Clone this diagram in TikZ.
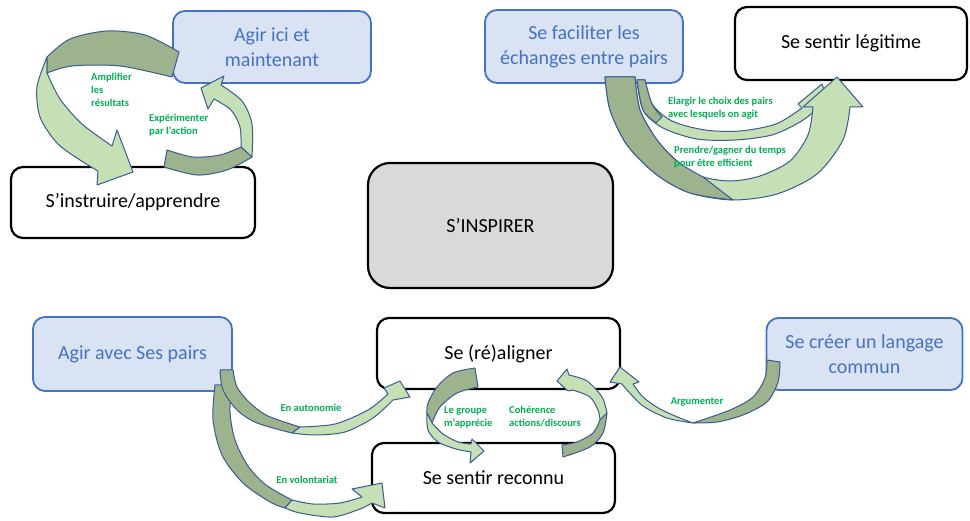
\documentclass[tikz,border=0pt]{standalone}
\usepackage{fontspec}
\setmainfont{Carlito}
\definecolor{blueFill}{HTML}{DAE3F3}
\definecolor{blueLine}{HTML}{4472C4}
\definecolor{grayFill}{HTML}{D9D9D9}
\definecolor{arLight}{HTML}{C5E0B4}
\definecolor{arDark}{HTML}{9DB38D}
\definecolor{arLine}{HTML}{3A5A94}
\definecolor{lblGreen}{HTML}{00B050}
\tikzset{
  box/.style={draw=black, line width=2.2pt, rounded corners=12pt, fill=white, align=center,
    font=\fontsize{20}{25}\selectfont, inner sep=2pt},
  bbox/.style={box, draw=blueLine, line width=1.8pt, fill=blueFill, text=blueLine},
  lite/.style={fill=arLight, draw=arLine, line width=1pt, line join=round},
  dark/.style={fill=arDark, draw=arLine, line width=1pt, line join=round},
  lbl/.style={text=lblGreen, font=\fontsize{10.5}{13}\selectfont\bfseries, align=left, inner sep=0pt}
}
\begin{document}
\begin{tikzpicture}[x=1pt,y=-1pt]
\useasboundingbox (0,0) rectangle (970,521);
% boxes
\node[bbox, minimum width=198pt, minimum height=72pt] (agir1) at (272,47) {Agir ici et\\maintenant};
\node[box, minimum width=244pt, minimum height=71pt] (instr) at (133,202.5) {S’instruire/apprendre};
\node[bbox, minimum width=198pt, minimum height=73pt] (facil) at (584,46.5) {Se faciliter les\\échanges entre pairs};
\node[box, minimum width=232pt, minimum height=73pt] (legit) at (851,43.5) {Se sentir légitime};
\node[box, fill=grayFill, rounded corners=22pt, minimum width=245pt, minimum height=125pt] (inspir) at (490.5,225.5) {S’INSPIRER};
\node[bbox, minimum width=199pt, minimum height=74pt] (agir2) at (132.5,354) {Agir avec Ses pairs};
\node[box, minimum width=243pt, minimum height=71pt] (realign) at (498.5,353.5) {Se (ré)aligner};
\node[box, minimum width=243pt, minimum height=70pt] (reconnu) at (493.5,478) {Se sentir reconnu};
\node[bbox, minimum width=196pt, minimum height=72pt] (langage) at (864.5,354) {Se créer un langage\\commun};

% arrow: Amplifier
\path[lite] plot[smooth] coordinates {(47,57) (37,87) (40,117) (57,143) (80,160) (98,171)} -- (97,185) -- (133,172) -- (117,130) -- plot[smooth] coordinates {(112,146) (82,124) (60,99) (47,73)} -- cycle;
\path[dark] plot[smooth] coordinates {(179,52) (145,35) (107,31) (70,39) (47,57)} -- plot[smooth] coordinates {(47,73) (72,66) (120,66) (172,77)} -- cycle;
% arrow: Experimenter
\path[lite] plot[smooth] coordinates {(252,157) (252,124) (242,101) (221,85)} -- (224,76) -- (201,88) -- (208,109) -- plot[smooth] coordinates {(214,99) (231,110) (240,127) (241,147)} -- cycle;
\path[dark] plot[smooth] coordinates {(167,150) (193,157) (220,155) (241,147)} -- plot[smooth] coordinates {(252,157) (227,170) (197,175) (164,167)} -- cycle;

% arrow: Elargir (small)
\path[lite] plot[smooth] coordinates {(637,80) (643,110) (663,128) (697,139) (735,140) (772,135) (800,122) (816,110)} -- (832,112) -- (822,84) -- (798,104) -- plot[smooth] coordinates {(802,108) (776,124) (740,131) (705,130) (672,121) (652,104) (645,80)} -- cycle;
\path[dark] plot[smooth] coordinates {(637,80) (643,110) (656,123)} -- plot[smooth] coordinates {(662,117) (652,104) (645,80)} -- cycle;
% arrow: Prendre (big)
\path[lite] plot[smooth] coordinates {(605,77) (610,110) (627,145) (657,175) (690,193) (733,200) (777,194) (817,174) (843,140) (850,107)} -- (863,107) -- (837,77) -- (803,107) -- plot[smooth] coordinates {(813,107) (808,135) (790,161) (760,176) (730,181) (700,176) (678,162) (657,140) (640,110) (635,77)} -- cycle;
\path[dark] plot[smooth] coordinates {(605,77) (610,110) (627,145) (657,175) (690,193) (733,200)} -- plot[smooth] coordinates {(703,177) (678,162) (657,140) (640,110) (635,77)} -- cycle;

% arrow: En volontariat
\path[dark] plot[smooth] coordinates {(215,385) (213,420) (222,455) (243,483) (270,502) (285,508)} -- plot[smooth] coordinates {(292,500) (266,485) (248,466) (235,440) (230,412) (232,385)} -- cycle;
\path[lite] plot[smooth] coordinates {(285,508) (300,513) (333,517) (360,509) (372,503)} -- (385,508) -- (382,483) -- (352,489) -- plot[smooth] coordinates {(362,497) (340,503) (313,504) (292,500)} -- cycle;
% arrow: En autonomie
\path[dark] plot[smooth] coordinates {(220,370) (223,390) (237,410) (257,423) (292,433)} -- plot[smooth] coordinates {(300,427) (268,416) (250,403) (237,387) (233,370)} -- cycle;
\path[lite] plot[smooth] coordinates {(292,433) (315,435) (345,432) (373,418) (393,400)} -- (410,397) -- (400,381) -- (384,388) -- plot[smooth] coordinates {(388,394) (368,410) (335,424) (300,427)} -- cycle;

% arrow: Le groupe
\path[dark] plot[smooth] coordinates {(475,368) (453,373) (437,387) (428,403) (427,413)} -- plot[smooth] coordinates {(432,423) (440,407) (457,393) (478,387)} -- cycle;
\path[lite] plot[smooth] coordinates {(427,413) (428,430) (438,442) (456,449) (471,452)} -- (470,463) -- (484,451) -- (472,439) -- plot[smooth] coordinates {(471,444) (458,442) (443,434) (432,423)} -- cycle;
% arrow: Coherence
\path[lite] plot[smooth] coordinates {(607,413) (602,397) (587,381) (569,375)} -- (567,369) -- (557,381) -- (568,391) -- plot[smooth] coordinates {(573,390) (590,397) (598,410) (600,420)} -- cycle;
\path[dark] plot[smooth] coordinates {(607,413) (603,433) (590,447) (563,457)} -- (562,445) -- plot[smooth] coordinates {(562,445) (577,442) (593,433) (600,420)} -- cycle;

% arrow: Argumenter
\path[dark] plot[smooth] coordinates {(780,362) (778,382) (767,402) (743,415) (717,422) (693,423)} -- plot[smooth] coordinates {(693,423) (730,410) (753,397) (765,378) (767,360)} -- cycle;
\path[lite] plot[smooth] coordinates {(693,423) (667,418) (643,406) (627,390) (622,384)} -- (610,382) -- (620,367) -- (639,382) -- plot[smooth] coordinates {(633,384) (643,397) (660,409) (680,418) (693,423)} -- cycle;

% labels
\node[lbl, anchor=west] (lamp) at (91,90) {Amplifier\\les\\résultats};
\node[lbl, anchor=west] (lexp) at (149,125) {Expérimenter\\par l’action};
\node[lbl, anchor=west] (lelar) at (668,108) {Elargir le choix des pairs\\avec lesquels on agit};
\node[lbl, anchor=west] (lpren) at (674,157) {Prendre/gagner du temps\\pour être efficient};
\node[lbl] (lauto) at (311,408) {En autonomie};
\node[lbl] (lvol) at (307,480) {En volontariat};
\node[lbl, anchor=west] (lgrp) at (444,417) {Le groupe\\m’apprécie};
\node[lbl, anchor=west] (lcoh) at (509,417) {Cohérence\\actions/discours};
\node[lbl] (larg) at (697,402) {Argumenter};
\end{tikzpicture}
\end{document}
